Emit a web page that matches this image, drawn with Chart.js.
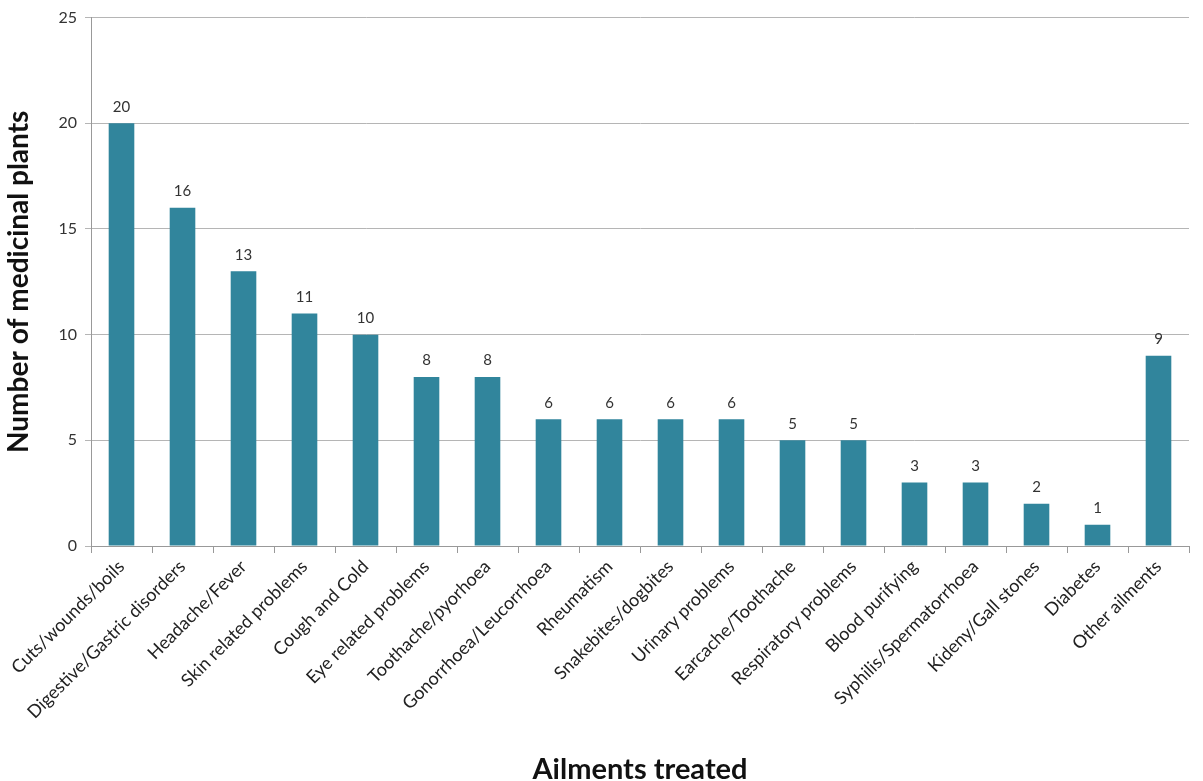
<!DOCTYPE html>
<html lang="en">
<head>
    <meta charset="UTF-8">
    <title>Ailments treated</title>
    <style>
        body { margin: 0; background: #fff; }
    </style>
</head>
<body>
    <canvas id="myChart" width="1203" height="781"></canvas>

    <script src="https://cdn.jsdelivr.net/npm/chart.js"></script>
    <script>
        // data
        const ailments = ['Cuts/wounds/boils', 'Digestive/Gastric disorders', 'Headache/Fever', 'Skin related problems',
            'Cough and Cold', 'Eye related problems', 'Toothache/pyorhoea', 'Gonorrhoea/Leucorrhoea', 'Rheumatism',
            'Snakebites/dogbites', 'Urinary problems', 'Earcache/Toothache', 'Respiratory problems', 'Blood purifying',
            'Syphilis/Spermatorrhoea', 'Kideny/Gall stones', 'Diabetes', 'Other ailments'];
        const plantCounts = [20, 16, 13, 11, 10, 8, 8, 6, 6, 6, 6, 5, 5, 3, 3, 2, 1, 9];
        const yTicks = [0, 5, 10, 15, 20, 25];

        const font = "Lato, 'Open Sans', sans-serif";

        // draws the number above each bar
        const valueLabels = {
            id: 'valueLabels',
            afterDatasetsDraw(chart) {
                const ctx = chart.ctx;
                const meta = chart.getDatasetMeta(0);
                ctx.save();
                ctx.font = '15px ' + font;
                ctx.fillStyle = '#333';
                ctx.textAlign = 'center';
                ctx.textBaseline = 'bottom';
                meta.data.forEach((bar, i) => {
                    ctx.fillText(plantCounts[i], bar.x, bar.y - 9);
                });
                ctx.restore();
            }
        };

        const config = {
            type: 'bar',
            data: {
                labels: ailments,
                datasets: [{
                    data: plantCounts,
                    backgroundColor: '#31859C',
                    barPercentage: 0.42,
                    categoryPercentage: 1
                }]
            },
            options: {
                responsive: false,
                animation: false,
                layout: { padding: { top: 8, right: 14 } },
                plugins: {
                    legend: { display: false },
                    tooltip: { enabled: false }
                },
                scales: {
                    x: {
                        offset: true,
                        grid: { offset: true, drawOnChartArea: false, color: '#999', tickLength: 7 },
                        border: { color: '#999' },
                        ticks: { color: '#222', font: { family: font, size: 18 }, minRotation: 45, maxRotation: 45, autoSkip: false },
                        title: { display: true, text: 'Ailments treated', color: '#111', font: { family: font, size: 29, weight: 'bold' }, padding: { top: 4, bottom: -6 } },
                        afterFit(scale) { scale.height = 235; }
                    },
                    y: {
                        min: 0,
                        max: 25,
                        afterBuildTicks(scale) { scale.ticks = yTicks.map(v => ({ value: v })); },
                        grid: { color: '#b5b5b5', tickLength: 6 },
                        border: { color: '#999' },
                        ticks: { color: '#333', font: { family: font, size: 16 }, padding: 8 },
                        title: { display: true, text: 'Number of medicinal plants', color: '#111', font: { family: font, size: 28, weight: 'bold' }, padding: { top: 2, bottom: 4 } },
                        afterFit(scale) { scale.width = 91; }
                    }
                }
            },
            plugins: [valueLabels]
        };

        const ctx = document.getElementById('myChart').getContext('2d');
        new Chart(ctx, config);
    </script>
</body>
</html>
